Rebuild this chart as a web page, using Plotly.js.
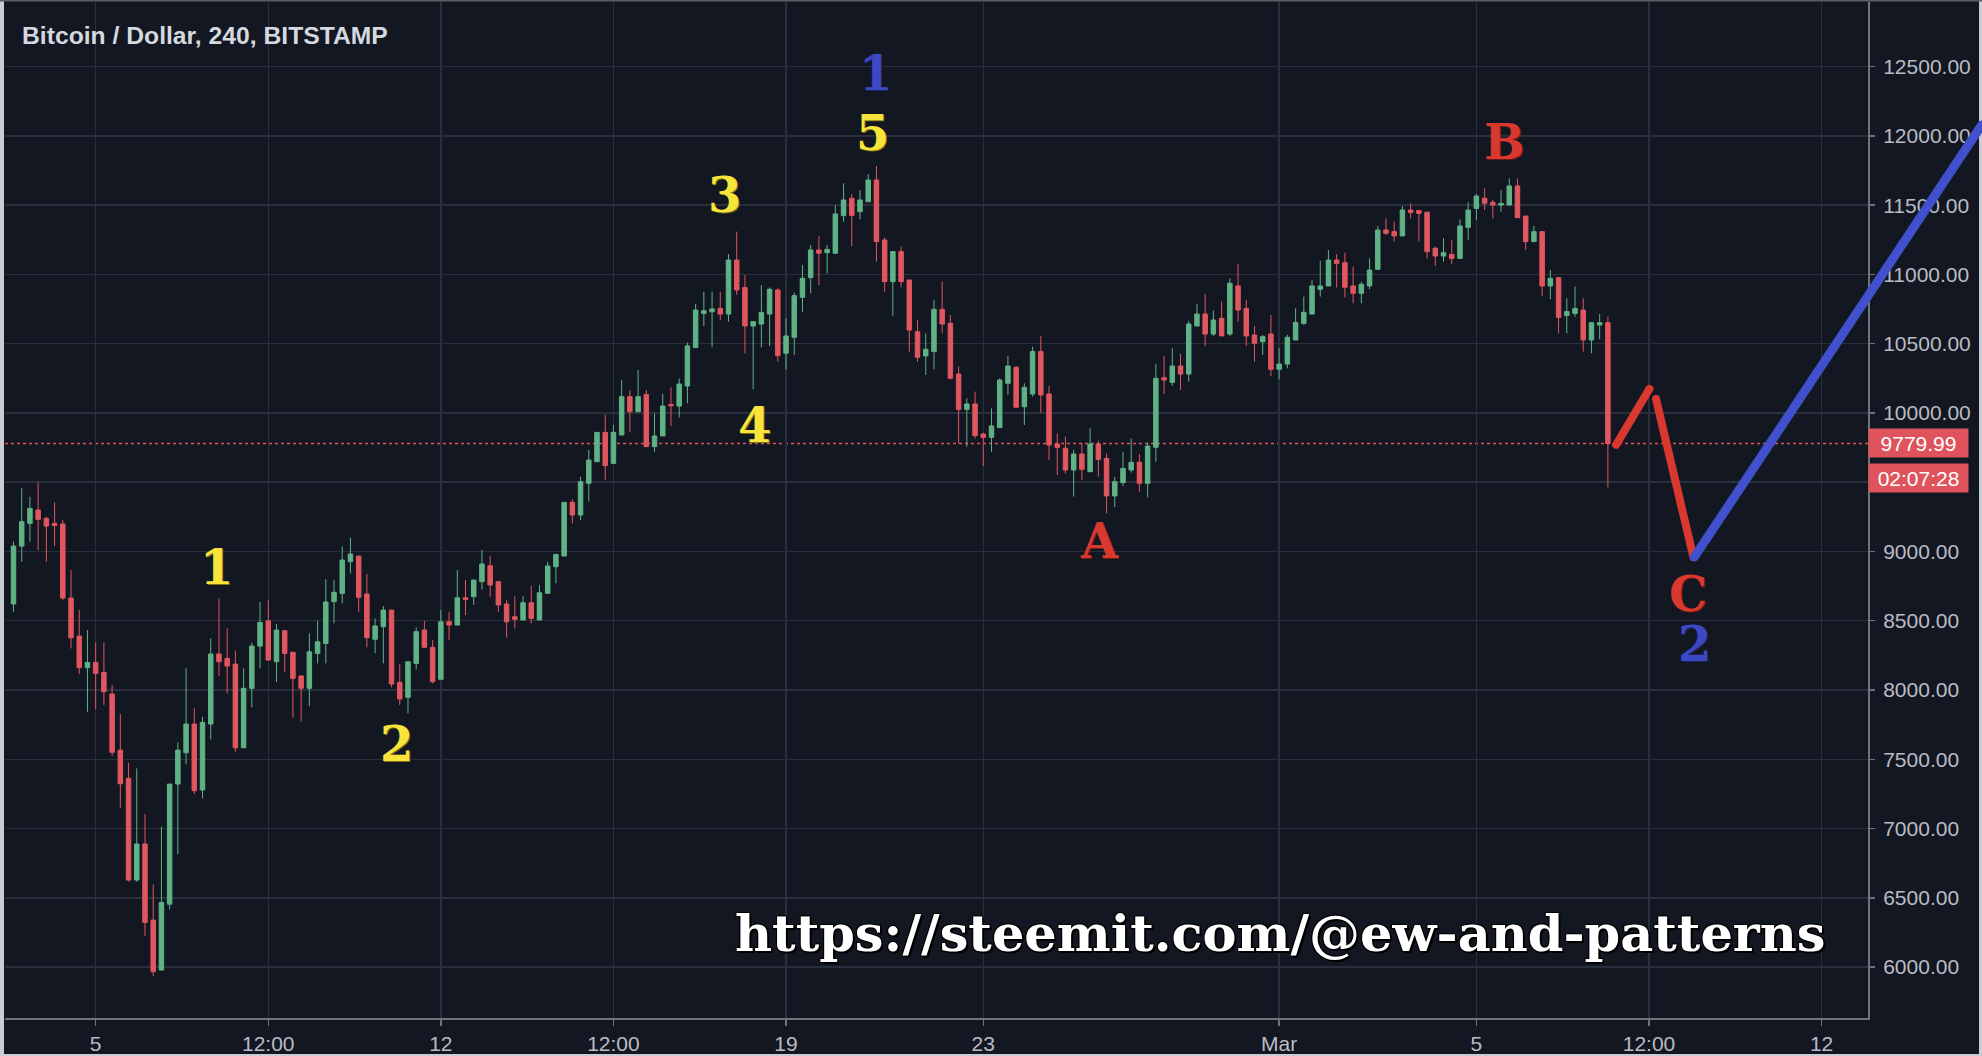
<!DOCTYPE html>
<html>
<head>
<meta charset="utf-8">
<script src="https://cdn.plot.ly/plotly-3.0.1.min.js"></script>
<style>
  html, body { margin: 0; padding: 0; background: #131722; }
  #chart { width: 1982px; height: 1056px; }
  #chart .scatterlayer .js-line { stroke-linecap: round; stroke-linejoin: round; }
</style>
</head>
<body>
<div id="chart"></div>
<script>
// ---------------- DATA (BTC/USD, Bitstamp, 4h bars) ----------------
const firstBar = '2018-02-03T08:00:00Z';
const barHours = 4;

const open = [8621,9039,9203,9299,9239,9203,9198,8664,8389,8161,8199,8127,7971,7566,7362,6628,6888,6339,5978,6454,
7321,7547,7754,7278,7754,8260,8228,8187,7583,8012,8317,8500,8204,8428,8272,8101,8012,8264,8336,8638,
8698,8926,8967,8693,8366,8457,8577,8055,7947,8192,8433,8308,8077,8493,8469,8666,8674,8782,8897,8782,
8621,8529,8505,8630,8505,8698,8890,8967,9355,9263,9492,9648,9860,9636,9841,10118,10009,10134,9757,9834,
10062,10050,10195,10472,10719,10731,10755,10714,11104,10905,10628,10642,10714,10888,10431,10546,10835,10977,11177,11157,
11153,11425,11550,11453,11525,11682,11249,10948,11165,10960,10587,10412,10443,10748,10647,10281,10026,10065,9848,9824,
9894,10214,10330,10045,10137,10443,10137,9776,9745,9588,9704,9576,9776,9672,9401,9497,9588,9644,9492,9752,
10255,10221,10339,10281,10628,10714,10570,10683,10570,10917,10755,10563,10515,10570,10315,10353,10527,10647,10714,10893,
10917,11104,11085,10917,10864,10917,11037,11321,11309,11278,11465,11461,11449,11189,11133,11145,11116,11340,11477,11550,
11521,11501,11501,11639,11422,11237,11309,10917,10977,10703,10719,10743,10527,10635,10652];

const high = [9071,9456,9395,9499,9251,9355,9227,8866,8577,8433,8344,8344,8036,7826,7475,7434,7104,6596,7013,7321,
7622,8156,7867,7807,8373,8661,8445,8284,8156,8341,8635,8649,8476,8433,8276,8108,8409,8500,8799,8794,
9035,9100,8967,8837,8517,8606,8577,8187,8204,8452,8500,8361,8577,8565,8866,8794,8794,9011,8967,8782,
8650,8678,8678,8751,8758,8926,8979,9355,9379,9540,9733,9860,9990,9913,10238,10166,10310,10166,9997,10137,
10185,10250,10508,10787,10876,10876,10876,11148,11309,10996,10659,10924,10907,10900,10683,10869,11068,11213,11278,11213,
11501,11658,11581,11610,11725,11783,11268,11165,11201,10960,10671,10575,10816,10948,10707,10334,10106,10154,9858,10033,
10250,10411,10339,10214,10479,10556,10195,9853,9829,9733,9781,9889,9800,9708,9540,9720,9817,9704,9786,10353,
10411,10467,10426,10666,10787,10859,10739,10804,10972,11076,10816,10628,10563,10707,10467,10563,10755,10840,10960,11100,
11177,11148,11157,11056,10948,11116,11350,11405,11381,11494,11513,11461,11453,11201,11261,11249,11398,11520,11581,11622,
11538,11610,11694,11694,11422,11350,11309,11032,10977,10828,10912,10828,10652,10714,10695];

const low = [8565,8926,9071,9010,8926,9039,8649,8300,8115,7843,7860,7891,7525,7150,6616,6616,6226,5935,5978,6416,
6815,7465,7249,7217,7643,8101,7976,7554,7583,7875,8156,8216,8057,8132,7800,7771,7884,8192,8192,8481,
8626,8842,8565,8308,8265,8192,8019,7891,7831,8149,8308,8048,8077,8361,8469,8541,8614,8726,8674,8565,
8378,8445,8505,8481,8505,8698,8770,8967,9203,9227,9360,9648,9516,9636,9841,9865,10009,9757,9720,9834,
9906,9968,10070,10472,10628,10474,10671,10659,10852,10431,10171,10474,10484,10370,10315,10419,10731,10864,10924,11008,
11153,11381,11205,11398,11525,11092,10876,10702,10907,10443,10370,10274,10315,10575,10243,9781,9757,9817,9617,9720,
9894,10130,10041,9913,10118,10002,9660,9552,9564,9396,9516,9576,9540,9275,9319,9473,9569,9432,9391,9648,
10137,10197,10166,10226,10628,10483,10556,10556,10556,10659,10483,10370,10419,10267,10243,10322,10527,10635,10714,10840,
10917,10907,10835,10792,10792,10893,11037,11285,11237,11278,11405,11237,11116,11061,11092,11076,11116,11249,11393,11465,
11405,11453,11501,11410,11177,11237,10844,10821,10575,10575,10695,10443,10431,10532,9463];

const close = [9039,9215,9311,9232,9184,9188,8664,8377,8161,8199,8120,7988,7550,7323,6628,6888,6322,5966,6466,7321,
7566,7754,7273,7766,8260,8204,8173,7583,8012,8317,8488,8216,8433,8264,8084,8012,8276,8348,8635,8705,
8938,8982,8669,8378,8462,8577,8043,7935,8204,8421,8308,8060,8493,8469,8666,8654,8794,8910,8758,8614,
8493,8510,8630,8517,8702,8895,8979,9355,9263,9504,9660,9860,9620,9860,10118,10009,10118,9757,9834,10050,
10052,10209,10484,10743,10738,10751,10714,11104,10888,10628,10659,10726,10893,10414,10556,10847,10972,11177,11153,11181,
11437,11538,11425,11538,11682,11237,10948,11165,10948,10599,10402,10460,10748,10642,10250,10026,10065,9836,9824,9906,
10238,10339,10041,10185,10443,10130,9769,9752,9588,9704,9593,9776,9665,9401,9504,9600,9644,9492,9761,10250,
10238,10339,10281,10642,10714,10570,10671,10556,10936,10743,10556,10503,10551,10315,10353,10546,10654,10727,10917,10917,
11104,11080,10907,10864,10929,11032,11321,11297,11278,11465,11446,11441,11165,11133,11157,11116,11350,11465,11566,11514,
11501,11513,11639,11410,11237,11309,10917,10972,10690,10732,10755,10527,10652,10652,9779.99];

// axis ticks (TradingView style labels)
const tickTimes  = ['2018-02-05 00:00','2018-02-08 12:00','2018-02-12 00:00','2018-02-15 12:00','2018-02-19 00:00',
                    '2018-02-23 00:00','2018-03-01 00:00','2018-03-05 00:00','2018-03-08 12:00','2018-03-12 00:00'];
const tickLabels = ['5','12:00','12','12:00','19','23','Mar','5','12:00','12'];
const priceTicks = [6000,6500,7000,7500,8000,8500,9000,9500,10000,10500,11000,11500,12000,12500];
const hiddenPriceTicks = [9500];   // covered by the countdown label on the price scale

// visible window of the chart
const viewStart = '2018-02-03 03:52';
const viewEnd   = '2018-03-12 22:36';
const priceMin = 5632, priceMax = 12967;

// Elliott wave labels
const waveLabels = ['1','2','3','4','5','1','A','B','C','2'];
const waveTimes  = ['2018-02-07 10:49','2018-02-11 02:38','2018-02-17 18:17','2018-02-18 08:53','2018-02-20 18:19',
                    '2018-02-20 19:47','2018-02-25 08:48','2018-03-05 13:55','2018-03-09 06:58','2018-03-09 10:05'];
const wavePrices = [8890, 7610, 11574, 9913, 12021, 12455, 9075, 11956, 8690, 8330];
const waveKinds  = ['minor','minor','minor','minor','minor','major','abc','abc','abc','major'];

// projected path drawn on the chart
const projRedTimes  = ['2018-03-07 20:00','2018-03-08 12:10', null, '2018-03-08 15:26','2018-03-09 09:36'];
const projRedPrices = [9770, 10173, null, 10101, 8960];
const projBlueTimes  = ['2018-03-09 10:05','2018-03-15 06:00'];
const projBluePrices = [8960, 12080];

const countdownText = '02:07:28';
const titleText = 'Bitcoin / Dollar, 240, BITSTAMP';
const watermark = 'https://steemit.com/@ew-and-patterns';

// ---------------- BUILD ----------------
function fmt(ms) {
  const d = new Date(ms);
  const p = n => String(n).padStart(2, '0');
  return d.getUTCFullYear() + '-' + p(d.getUTCMonth() + 1) + '-' + p(d.getUTCDate()) + ' ' +
         p(d.getUTCHours()) + ':' + p(d.getUTCMinutes());
}
const t0 = Date.parse(firstBar);
const barTimes = close.map((_, i) => fmt(t0 + i * barHours * 3600000));

const W = 1982, H = 1056;
const ML = 5, MR = 0, MT = 2, MB = 38;
const plotW = W - ML - MR;
const axisPx = 1868;                      // price scale position
const mainEnd = (axisPx - ML) / plotW;

const ms = s => Date.parse(s.replace(' ', 'T') + ':00Z');
const pxPerMs = (axisPx - ML) / (ms(viewEnd) - ms(viewStart));
const view2End = fmt(ms(viewEnd) + (W - MR - axisPx) / pxPerMs);

const BG = '#131722', GRID = '#2a2f3d', AXIS = '#70737d', TXT = '#b9bcc4';
const UP = '#5fb286', DN = '#e0575f';
const YEL = '#f8e43a', BLU = '#3d49c4', RED = '#d8382d';

const traces = [
  {
    type: 'candlestick', x: barTimes, open: open, high: high, low: low, close: close,
    xaxis: 'x', yaxis: 'y',
    increasing: { line: { color: UP, width: 1 }, fillcolor: UP },
    decreasing: { line: { color: DN, width: 1 }, fillcolor: DN },
    whiskerwidth: 0, hoverinfo: 'skip', showlegend: false
  },
  {
    type: 'scatter', mode: 'lines', x: projRedTimes, y: projRedPrices, xaxis: 'x2', yaxis: 'y2',
    line: { color: RED, width: 8 }, connectgaps: false, hoverinfo: 'skip', showlegend: false
  },
  {
    type: 'scatter', mode: 'lines', x: projBlueTimes, y: projBluePrices, xaxis: 'x2', yaxis: 'y2',
    line: { color: '#4150cc', width: 9 }, hoverinfo: 'skip', showlegend: false
  }
];

const lastClose = close[close.length - 1];
const colorOf = { minor: YEL, major: BLU, abc: RED };
const shadowOf = { minor: '1px 1px 0 #7d7218', major: '1px 1px 0 #1c2260', abc: '1px 1px 0 #6a1a15' };

const annotations = waveLabels.map((t, i) => ({
  text: t, x: waveTimes[i], y: wavePrices[i], xref: 'x', yref: 'y',
  showarrow: false, xanchor: 'center', yanchor: 'middle', height: 40,
  font: { family: 'DejaVu Serif, Liberation Serif, serif', size: 48, weight: 900,
          color: colorOf[waveKinds[i]], shadow: shadowOf[waveKinds[i]] }
}));

annotations.push({
  text: lastClose.toFixed(2), xref: 'paper', yref: 'y', x: mainEnd, y: lastClose,
  xanchor: 'left', yanchor: 'middle', showarrow: false, align: 'center',
  width: 93, height: 22, borderpad: 3, bgcolor: '#df535c',
  font: { family: 'Liberation Sans, Arial, sans-serif', size: 21, color: '#ffffff' }
});
annotations.push({
  text: countdownText, xref: 'paper', yref: 'y', x: mainEnd, y: lastClose, yshift: -35,
  xanchor: 'left', yanchor: 'middle', showarrow: false, align: 'center',
  width: 93, height: 22, borderpad: 3, bgcolor: '#df535c',
  font: { family: 'Liberation Sans, Arial, sans-serif', size: 21, color: '#ffffff' }
});
annotations.push({
  text: watermark, xref: 'paper', yref: 'paper',
  x: (1280 - ML) / plotW, y: (H - MB - 933) / (H - MT - MB),
  xanchor: 'center', yanchor: 'middle', showarrow: false,
  font: { family: 'DejaVu Serif, Liberation Serif, serif', size: 51, weight: 900, color: '#ffffff',
          shadow: '2px 2px 0 #000, -1px -1px 0 #000, 1px -1px 0 #000, -1px 1px 0 #000' }
});

const px2paperX = p => (p - ML) / plotW;
const px2paperY = p => (H - MB - p) / (H - MT - MB);

const shapes = [
  { type: 'line', xref: 'paper', yref: 'y', x0: 0, x1: mainEnd, y0: lastClose, y1: lastClose,
    line: { color: '#e0505a', width: 1.5, dash: 'dot' }, layer: 'below' },
  // screenshot frame
  { type: 'rect', xref: 'paper', yref: 'paper', x0: px2paperX(0), x1: px2paperX(4), y0: px2paperY(H), y1: px2paperY(0),
    fillcolor: '#c9ccd2', line: { width: 0 }, layer: 'above' },
  { type: 'rect', xref: 'paper', yref: 'paper', x0: px2paperX(1979), x1: px2paperX(W), y0: px2paperY(H), y1: px2paperY(0),
    fillcolor: '#c9ccd2', line: { width: 0 }, layer: 'below' },
  { type: 'rect', xref: 'paper', yref: 'paper', x0: px2paperX(0), x1: px2paperX(W), y0: px2paperY(H), y1: px2paperY(H - 2),
    fillcolor: '#c9ccd2', line: { width: 0 }, layer: 'above' },
  { type: 'rect', xref: 'paper', yref: 'paper', x0: px2paperX(0), x1: px2paperX(W), y0: px2paperY(1.5), y1: px2paperY(0),
    fillcolor: '#5a5e68', line: { width: 0 }, layer: 'above' }
];

const tickFont = { family: 'Liberation Sans, Arial, sans-serif', size: 21, color: TXT };
const priceTickText = priceTicks.map(v => hiddenPriceTicks.includes(v) ? '' : v.toFixed(2));

const layout = {
  width: W, height: H,
  margin: { l: ML, r: MR, t: MT, b: MB, pad: 0 },
  paper_bgcolor: BG, plot_bgcolor: 'rgba(0,0,0,0)',
  showlegend: false, hovermode: false, boxgap: 0.22,
  title: { text: titleText, x: 22 / W, xanchor: 'left', xref: 'container',
           y: 1 - 35 / H, yanchor: 'middle', yref: 'container',
           font: { family: 'Liberation Sans, Arial, sans-serif', size: 24.7, weight: 600, color: '#d5d8de' } },
  xaxis: {
    type: 'date', domain: [0, mainEnd], anchor: 'y', range: [viewStart, viewEnd],
    tickmode: 'array', tickvals: tickTimes, ticktext: tickLabels,
    showgrid: true, gridcolor: GRID, gridwidth: 1.5,
    showline: true, linecolor: AXIS, linewidth: 2, mirror: false,
    ticks: 'outside', ticklen: 6, tickcolor: AXIS, tickwidth: 1.5,
    tickfont: tickFont, zeroline: false, fixedrange: true,
    rangeslider: { visible: false }
  },
  yaxis: {
    domain: [0, 1], anchor: 'x', side: 'right', range: [priceMin, priceMax],
    tickmode: 'array', tickvals: priceTicks, ticktext: priceTickText,
    showgrid: true, gridcolor: GRID, gridwidth: 1.5,
    showline: true, linecolor: AXIS, linewidth: 2,
    ticks: 'outside', ticklen: 5, tickcolor: AXIS, tickwidth: 1.5, ticklabelstandoff: 4,
    tickfont: tickFont, zeroline: false, fixedrange: true
  },
  xaxis2: { type: 'date', domain: [0, 1], anchor: 'y2', range: [viewStart, view2End], visible: false, fixedrange: true },
  yaxis2: { domain: [0, 1], anchor: 'x2', range: [priceMin, priceMax], visible: false, fixedrange: true },
  annotations: annotations,
  shapes: shapes
};

Plotly.newPlot('chart', traces, layout, { displayModeBar: false, staticPlot: true });
</script>
</body>
</html>
